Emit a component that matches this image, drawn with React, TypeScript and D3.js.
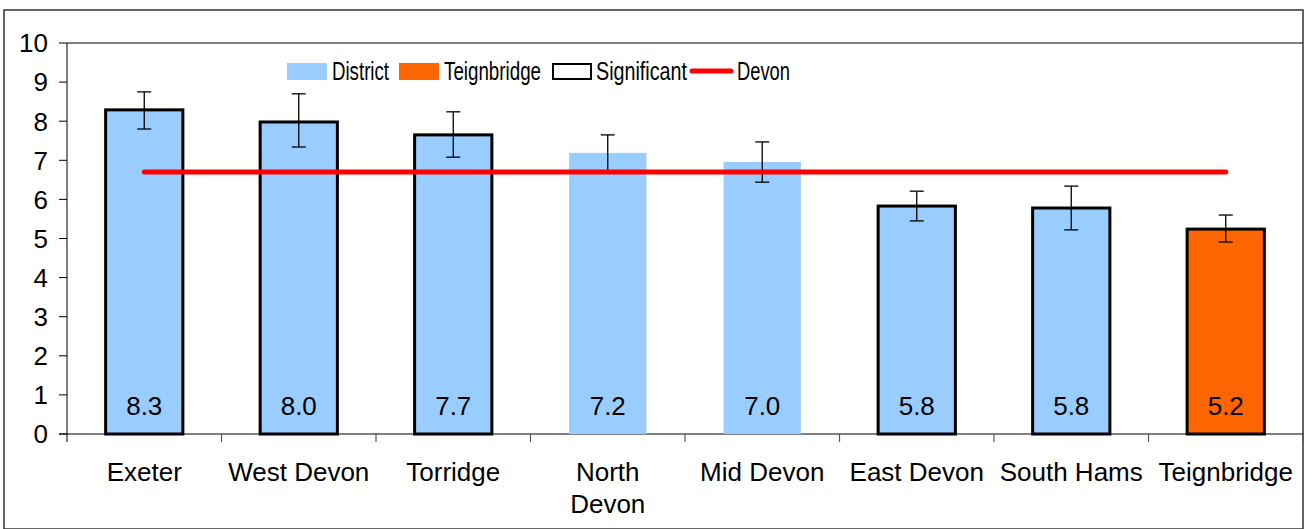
import React from 'react';
import * as d3 from 'd3';

// values
const districts = ['Exeter', 'West Devon', 'Torridge', 'North Devon', 'Mid Devon', 'East Devon', 'South Hams', 'Teignbridge'];
const rates = [8.29, 7.98, 7.65, 7.19, 6.96, 5.83, 5.78, 5.24];
const upperCI = [8.75, 8.70, 8.24, 7.65, 7.47, 6.21, 6.34, 5.60];
const lowerCI = [7.80, 7.34, 7.08, 6.70, 6.44, 5.45, 5.22, 4.91];
const significant = [true, true, true, false, false, true, true, true];
const devonRate = 6.7;
const yTicks = [0, 1, 2, 3, 4, 5, 6, 7, 8, 9, 10];

const W = 1313;
const H = 529;
const margin = { left: 67, top: 43, right: 10, bottom: 95 };
const FONT = '"Liberation Sans", Arial, sans-serif';

export default function App() {
  const x = d3.scaleBand<string>()
    .domain(districts)
    .range([margin.left, W - margin.right])
    .paddingInner(0.5)
    .paddingOuter(0.25);
  const y = d3.scaleLinear().domain([0, 10]).range([H - margin.bottom, margin.top]);
  const step = x.step();
  const bw = x.bandwidth();
  const x0 = margin.left;
  const x1 = W - margin.right;
  const y0 = y(0);

  const center = (d: string) => (x(d) ?? 0) + bw / 2;

  return (
    <svg width={W} height={H} style={{ position: 'absolute', left: 0, top: 0, fontFamily: FONT }}>
      <rect x={0} y={0} width={W} height={H} fill="#fff" />
      {/* outer chart border */}
      <rect x={4} y={10} width={x1 - 4} height={H - 10} fill="none" stroke="#333" strokeWidth={1.5} />

      {/* plot frame */}
      <line x1={x0} x2={x1} y1={margin.top} y2={margin.top} stroke="#000" strokeWidth={1} />
      <line x1={x0} x2={x0} y1={margin.top} y2={y0 + 8} stroke="#000" strokeWidth={1} />
      <line x1={x0 - 8} x2={x1} y1={y0} y2={y0} stroke="#000" strokeWidth={1} />

      {/* y ticks */}
      {yTicks.map(t => (
        <g key={t}>
          <line x1={x0 - 8} x2={x0} y1={y(t)} y2={y(t)} stroke="#000" strokeWidth={1} />
          <text x={x0 - 19} y={y(t)} dy="0.36em" textAnchor="end" fontSize={26}>{t}</text>
        </g>
      ))}

      {/* x ticks at category boundaries */}
      {districts.map((d, i) => (
        <line key={d} x1={x0 + step * (i + 1)} x2={x0 + step * (i + 1)} y1={y0} y2={y0 + 8} stroke="#555" strokeWidth={1.2} />
      ))}

      {/* bars */}
      {districts.map((d, i) => (
        <rect
          key={d}
          x={x(d)}
          y={y(rates[i])}
          width={bw}
          height={y0 - y(rates[i])}
          fill={d === 'Teignbridge' ? '#FF6600' : '#99CCFF'}
          stroke={significant[i] ? '#000' : 'none'}
          strokeWidth={3}
        />
      ))}

      {/* error bars */}
      {districts.map((d, i) => {
        const cx = center(d);
        return (
          <g key={d} stroke="#000" strokeWidth={1.3}>
            <line x1={cx} x2={cx} y1={y(upperCI[i])} y2={y(lowerCI[i])} />
            <line x1={cx - 7} x2={cx + 7} y1={y(upperCI[i])} y2={y(upperCI[i])} />
            <line x1={cx - 7} x2={cx + 7} y1={y(lowerCI[i])} y2={y(lowerCI[i])} />
          </g>
        );
      })}

      {/* Devon average */}
      <line
        x1={center(districts[0])}
        x2={center(districts[districts.length - 1])}
        y1={y(devonRate)}
        y2={y(devonRate)}
        stroke="#FF0000"
        strokeWidth={5}
        strokeLinecap="round"
      />

      {/* value labels */}
      {districts.map((d, i) => (
        <text key={d} x={center(d)} y={y0 - 28} dy="0.36em" textAnchor="middle" fontSize={26}>
          {d3.format('.1f')(rates[i])}
        </text>
      ))}

      {/* category labels */}
      {districts.map(d => {
        const lines = d === 'North Devon' ? ['North', 'Devon'] : [d];
        return (
          <text key={d} x={center(d)} y={y0 + 38} textAnchor="middle" fontSize={26}>
            {lines.map((l, k) => (
              <tspan key={k} x={center(d)} dy={k === 0 ? '0.36em' : 32}>{l}</tspan>
            ))}
          </text>
        );
      })}

      {/* legend */}
      <g fontSize={26}>
        <rect x={287} y={63} width={40} height={17} fill="#99CCFF" />
        <text x={332} y={71} dy="0.36em" textLength={57} lengthAdjust="spacingAndGlyphs">District</text>
        <rect x={399} y={63} width={40} height={17} fill="#FF6600" />
        <text x={444} y={71} dy="0.36em" textLength={97} lengthAdjust="spacingAndGlyphs">Teignbridge</text>
        <rect x={553} y={64} width={38} height={15} fill="#fff" stroke="#000" strokeWidth={2} />
        <text x={596} y={71} dy="0.36em" textLength={91} lengthAdjust="spacingAndGlyphs">Significant</text>
        <line x1={692} x2={731} y1={71} y2={71} stroke="#FF0000" strokeWidth={5} strokeLinecap="round" />
        <text x={737} y={71} dy="0.36em" textLength={53} lengthAdjust="spacingAndGlyphs">Devon</text>
      </g>
    </svg>
  );
}
